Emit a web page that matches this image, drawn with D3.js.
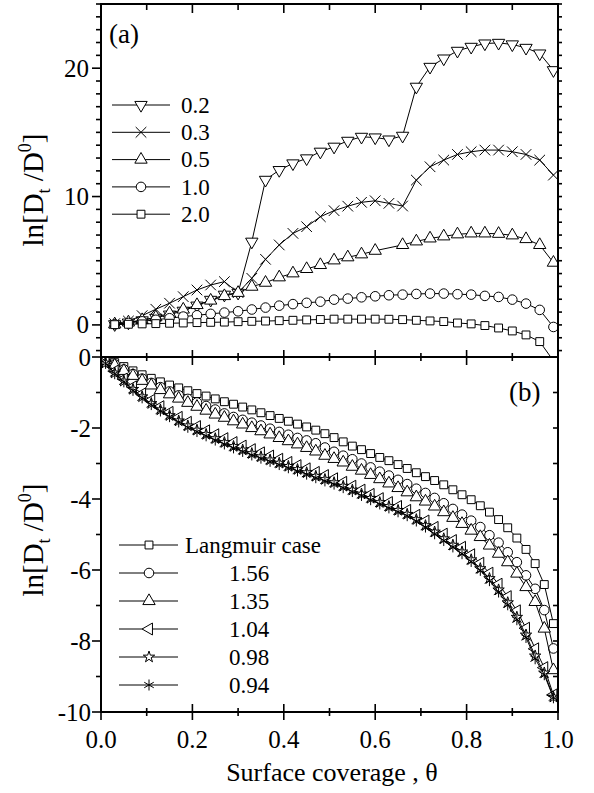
<!DOCTYPE html>
<html>
<head>
<meta charset="utf-8">
<script src="https://cdn.jsdelivr.net/npm/d3@7"></script>
<style>
body { margin: 0; background: #fff; }
svg { display: block; }
svg text { font-family: "Liberation Serif", "Times New Roman", serif; }
</style>
</head>
<body>
<script>
// panel (a): theta grid and ln[Dt/D0] for each value
var thetaTop = [0.03, 0.06, 0.09, 0.12, 0.15, 0.18, 0.21, 0.24, 0.27, 0.30, 0.33, 0.36, 0.39, 0.42, 0.45, 0.48, 0.51,
                0.54, 0.57, 0.60, 0.63, 0.66, 0.69, 0.72, 0.75, 0.78, 0.81, 0.84, 0.87, 0.90, 0.93, 0.96, 0.99];
var a02 = [0.05, 0.18, 0.35, 0.55, 0.8, 1.1, 1.5, 1.95, 2.35, 2.5, 6.48, 11.3, 12.06, 12.58, 12.97, 13.49, 13.88,
           14.34, 14.65, 14.6, 14.44, 14.73, 18.55, 20.1, 20.75, 21.35, 21.66, 21.92, 21.97, 21.85, 21.58, 21.14, 19.84];
var a03 = [0.1, 0.3, 0.72, 1.22, 1.69, 2.2, 2.72, 3.11, 3.37, 2.51, 3.63, 5.11, 6.23, 7.13, 7.65, 8.43, 8.9,
           9.25, 9.55, 9.67, 9.47, 9.26, 11.28, 12.32, 12.84, 13.28, 13.49, 13.62, 13.62, 13.49, 13.28, 12.84, 11.67];
var a05 = [0.05, 0.2, 0.38, 0.6, 0.9, 1.2, 1.55, 1.9, 2.25, 2.5, 2.98, 3.29, 3.71, 4.02, 4.36, 4.67, 5.03,
           5.27, 5.5, 5.78, null, 6.23, 6.51, 6.74, 6.9, 7.06, 7.13, 7.13, 7.1, 6.98, 6.69, 6.23, 4.85];
var a10 = [0.05, 0.15, 0.28, 0.4, 0.52, 0.65, 0.75, 0.86, 0.96, 1.06, 1.2, 1.35, 1.5, 1.62, 1.72, 1.81, 1.97,
           2.05, 2.15, 2.23, 2.31, 2.36, 2.41, 2.44, 2.44, 2.39, 2.36, 2.26, 2.18, 1.97, 1.66, 1.17, -0.16];
var a20 = [0.02, 0.05, 0.08, 0.1, 0.13, 0.15, 0.18, 0.2, 0.22, 0.25, 0.28, 0.3, 0.33, 0.36, 0.39, 0.42, 0.45,
           0.45, 0.45, 0.45, 0.44, 0.41, 0.36, 0.31, 0.26, 0.15, 0.08, -0.05, -0.24, -0.47, -0.78, -1.3, -2.8];
var namesTop = ["0.2", "0.3", "0.5", "1.0", "2.0"];

// panel (b)
var thetaBot = [0.01, 0.03, 0.05, 0.07, 0.09, 0.11, 0.13, 0.15, 0.17, 0.19, 0.21, 0.23, 0.25, 0.27, 0.29, 0.31, 0.33,
                0.35, 0.37, 0.39, 0.41, 0.43, 0.45, 0.47, 0.49, 0.51, 0.53, 0.55, 0.57, 0.59, 0.61, 0.63, 0.65, 0.67,
                0.69, 0.71, 0.73, 0.75, 0.77, 0.79, 0.81, 0.83, 0.85, 0.87, 0.89, 0.91, 0.93, 0.95, 0.97, 0.99];
var bLang = [-0.05, -0.16, -0.27, -0.39, -0.5, -0.6, -0.7, -0.79, -0.87, -0.95, -1.03, -1.1, -1.18, -1.26, -1.33, -1.41, -1.49,
             -1.57, -1.65, -1.73, -1.81, -1.89, -1.97, -2.06, -2.16, -2.27, -2.39, -2.51, -2.61, -2.72, -2.83, -2.92, -3.03, -3.14,
             -3.26, -3.37, -3.48, -3.6, -3.74, -3.88, -4.02, -4.19, -4.37, -4.58, -4.81, -5.1, -5.42, -5.82, -6.41, -7.51];
var b156 = [-0.07, -0.21, -0.35, -0.48, -0.61, -0.73, -0.85, -0.97, -1.08, -1.18, -1.28, -1.38, -1.48, -1.59, -1.69, -1.77, -1.85,
            -1.93, -2.02, -2.11, -2.19, -2.28, -2.35, -2.43, -2.55, -2.67, -2.78, -2.88, -3.0, -3.11, -3.23, -3.34, -3.46, -3.58,
            -3.71, -3.83, -3.97, -4.12, -4.28, -4.44, -4.61, -4.79, -5.02, -5.23, -5.5, -5.78, -6.15, -6.53, -7.13, -8.21];
var b135 = [-0.08, -0.24, -0.39, -0.53, -0.67, -0.8, -0.93, -1.05, -1.17, -1.29, -1.4, -1.51, -1.62, -1.71, -1.81, -1.9, -2.0,
            -2.09, -2.18, -2.28, -2.37, -2.46, -2.56, -2.66, -2.78, -2.87, -2.97, -3.09, -3.2, -3.32, -3.44, -3.56, -3.69, -3.81,
            -3.95, -4.07, -4.21, -4.37, -4.53, -4.7, -4.89, -5.07, -5.31, -5.54, -5.78, -6.1, -6.48, -6.9, -7.65, -8.82];
var b104 = [-0.15, -0.4, -0.62, -0.84, -1.04, -1.22, -1.4, -1.56, -1.7, -1.84, -1.96, -2.08, -2.19, -2.3, -2.41, -2.51, -2.61,
            -2.7, -2.79, -2.88, -2.97, -3.06, -3.15, -3.25, -3.34, -3.43, -3.53, -3.64, -3.75, -3.87, -3.99, -4.1, -4.21, -4.32,
            -4.46, -4.62, -4.8, -4.99, -5.17, -5.36, -5.57, -5.81, -6.09, -6.4, -6.75, -7.15, -7.64, -8.22, -8.75, -9.52];
var b098 = [-0.17, -0.45, -0.68, -0.91, -1.12, -1.31, -1.49, -1.65, -1.8, -1.94, -2.06, -2.18, -2.3, -2.41, -2.52, -2.62, -2.72,
            -2.81, -2.9, -2.99, -3.08, -3.17, -3.26, -3.36, -3.45, -3.54, -3.64, -3.75, -3.86, -3.98, -4.1, -4.21, -4.32, -4.43,
            -4.58, -4.75, -4.93, -5.12, -5.3, -5.49, -5.71, -5.96, -6.24, -6.56, -6.92, -7.33, -7.83, -8.42, -8.9, -9.58];
var b094 = [-0.18, -0.47, -0.7, -0.94, -1.15, -1.34, -1.52, -1.68, -1.83, -1.98, -2.1, -2.22, -2.34, -2.45, -2.56, -2.66, -2.76,
            -2.85, -2.94, -3.03, -3.12, -3.21, -3.3, -3.4, -3.49, -3.58, -3.68, -3.79, -3.9, -4.02, -4.14, -4.25, -4.36, -4.47,
            -4.62, -4.79, -4.98, -5.17, -5.35, -5.54, -5.76, -6.01, -6.3, -6.62, -6.98, -7.4, -7.9, -8.5, -8.95, -9.6];
var namesBot = ["Langmuir case", "1.56", "1.35", "1.04", "0.98", "0.94"];

// ticks
var xLabels = [0, 0.2, 0.4, 0.6, 0.8, 1.0];
var xMinor = [0.1, 0.3, 0.5, 0.7, 0.9];
var yTopLabels = [0, 10, 20];
var yBotLabels = [0, -2, -4, -6, -8, -10];

var svg = d3.select("body").append("svg").attr("width", 594).attr("height", 793);

var x = d3.scaleLinear().domain([0, 1]).range([101, 558]);
var yA = d3.scaleLinear().domain([-2.5, 25]).range([357, 4]);
var yB = d3.scaleLinear().domain([-10, 0]).range([712, 357]);

// marker shapes
var sym = {
  down:  {t: d3.symbolTriangle, s: 66, r: 180},
  times: {t: d3.symbolTimes, s: 75, r: 0},
  up:    {t: d3.symbolTriangle, s: 66, r: 0},
  circ:  {t: d3.symbolCircle, s: 72, r: 0},
  sq:    {t: d3.symbolSquare, s: 62, r: 0},
  left:  {t: d3.symbolTriangle, s: 62, r: -90},
  star:  {t: d3.symbolStar, s: 40, r: 0},
  ast:   {t: d3.symbolAsterisk, s: 85, r: 0}
};
function drawMarkers(g, pts, key, sx, sy) {
  var m = sym[key];
  g.selectAll(null).data(pts).enter().append("path")
    .attr("d", d3.symbol().type(m.t).size(m.s))
    .attr("transform", function (d) { return "translate(" + sx(d[0]) + "," + sy(d[1]) + ") rotate(" + m.r + ")"; })
    .attr("fill", key == "ast" || key == "times" ? "none" : "#fff")
    .attr("stroke", "#000").attr("stroke-width", 1);
}

function panel(id, sy, thetas, series, keys) {
  svg.append("clipPath").attr("id", id).append("rect")
    .attr("x", x(0)).attr("y", sy.range()[1]).attr("width", x(1) - x(0)).attr("height", sy.range()[0] - sy.range()[1]);
  var g = svg.append("g").attr("clip-path", "url(#" + id + ")");
  var line = d3.line().x(function (d) { return x(d[0]); }).y(function (d) { return sy(d[1]); });
  series.forEach(function (vals, i) {
    var pts = thetas.map(function (t, j) { return [t, vals[j]]; }).filter(function (d) { return d[1] != null; });
    g.append("path").attr("d", line(pts)).attr("fill", "none").attr("stroke", "#000").attr("stroke-width", 1);
    drawMarkers(g, pts, keys[i], x, sy);
  });
}

panel("clipB", yB, thetaBot, [bLang, b156, b135, b104, b098, b094], ["sq", "circ", "up", "left", "star", "ast"]);
panel("clipA", yA, thetaTop, [a02, a03, a05, a10, a20], ["down", "times", "up", "circ", "sq"]);

// frames
function hline(y0, x0, x1) { svg.append("line").attr("x1", x0).attr("x2", x1).attr("y1", y0).attr("y2", y0).attr("stroke", "#000").attr("stroke-width", 2); }
function vline(x0, y0, y1) { svg.append("line").attr("x1", x0).attr("x2", x0).attr("y1", y0).attr("y2", y1).attr("stroke", "#000").attr("stroke-width", 2); }
hline(yA.range()[1], x(0) - 1, x(1) + 1);
hline(yB.range()[1], x(0) - 1, x(1) + 1);
hline(yB.range()[0], x(0) - 1, x(1) + 1);
vline(x(0), yA.range()[1], yB.range()[0]);
vline(x(1), yA.range()[1], yB.range()[0]);

function tick(x1, y1, x2, y2) {
  svg.append("line").attr("x1", x1).attr("y1", y1).attr("x2", x2).attr("y2", y2).attr("stroke", "#000").attr("stroke-width", 1.6);
}
// x ticks: top edge inward, middle and bottom crossing
xLabels.forEach(function (v) {
  tick(x(v), 4, x(v), 13);
  tick(x(v), 350, x(v), 365);
  tick(x(v), 704, x(v), 720);
});
xMinor.forEach(function (v) {
  tick(x(v), 4, x(v), 10);
  tick(x(v), 353, x(v), 361);
  tick(x(v), 708, x(v), 716);
});
// y ticks
d3.range(-2, 26).forEach(function (v) {
  var maj = v % 10 == 0;
  tick(x(0) - (maj ? 9 : 5), yA(v), x(0), yA(v));
  tick(x(1), yA(v), x(1) + 4, yA(v));
});
d3.range(-10, 1).forEach(function (v) {
  var maj = v % 2 == 0;
  tick(x(0) - (maj ? 9 : 5), yB(v), x(0), yB(v));
  tick(x(1) - 5, yB(v), x(1), yB(v));
});

// tick labels
svg.selectAll(null).data(xLabels).enter().append("text")
  .attr("x", function (d) { return x(d); }).attr("y", 748)
  .attr("text-anchor", "middle").attr("font-size", 25)
  .text(function (d) { return d3.format(".1f")(d); });
svg.selectAll(null).data(yTopLabels).enter().append("text")
  .attr("x", 89).attr("y", function (d) { return yA(d); }).attr("dy", "0.34em")
  .attr("text-anchor", "end").attr("font-size", 25)
  .text(function (d) { return d; });
svg.selectAll(null).data(yBotLabels).enter().append("text")
  .attr("x", 91).attr("y", function (d) { return yB(d); }).attr("dy", "0.34em")
  .attr("text-anchor", "end").attr("font-size", 25)
  .text(function (d) { return d; });

// axis titles
svg.append("text").attr("x", 332).attr("y", 781).attr("text-anchor", "middle")
  .attr("font-size", 26).text("Surface coverage , θ");

function ylabel(cy) {
  var t = svg.append("text").attr("transform", "translate(43," + cy + ") rotate(-90)")
    .attr("text-anchor", "middle").attr("font-size", 29);
  t.append("tspan").text("ln[D");
  t.append("tspan").attr("dy", 7).attr("font-size", 18).text("t");
  t.append("tspan").attr("dy", -7).text(" /D");
  t.append("tspan").attr("dy", -12).attr("font-size", 18).text("0");
  t.append("tspan").attr("dy", 12).text("]");
}
ylabel(190);
ylabel(540);

// panel letters
svg.append("text").attr("x", 109).attr("y", 43).attr("font-size", 27).text("(a)");
svg.append("text").attr("x", 509).attr("y", 401).attr("font-size", 27).text("(b)");

// legends
var ident = function (v) { return v; };
var keysTop = ["down", "times", "up", "circ", "sq"];
var lgTop = svg.append("g");
namesTop.forEach(function (n, i) {
  var yy = 105 + i * 27.3;
  lgTop.append("line").attr("x1", 112).attr("x2", 170).attr("y1", yy).attr("y2", yy).attr("stroke", "#000");
  drawMarkers(lgTop, [[141, yy]], keysTop[i], ident, ident);
  lgTop.append("text").attr("x", 181).attr("y", yy).attr("dy", "0.34em")
    .attr("font-size", 23).text(n);
});
var keysBot = ["sq", "circ", "up", "left", "star", "ast"];
var lgBot = svg.append("g");
namesBot.forEach(function (n, i) {
  var yy = 545 + i * 28;
  lgBot.append("line").attr("x1", 119).attr("x2", 178).attr("y1", yy).attr("y2", yy).attr("stroke", "#000");
  drawMarkers(lgBot, [[149, yy]], keysBot[i], ident, ident);
  lgBot.append("text").attr("x", i == 0 ? 185 : 249).attr("y", yy).attr("dy", "0.34em")
    .attr("text-anchor", i == 0 ? "start" : "middle")
    .attr("font-size", 23).text(n);
});
</script>
</body>
</html>
